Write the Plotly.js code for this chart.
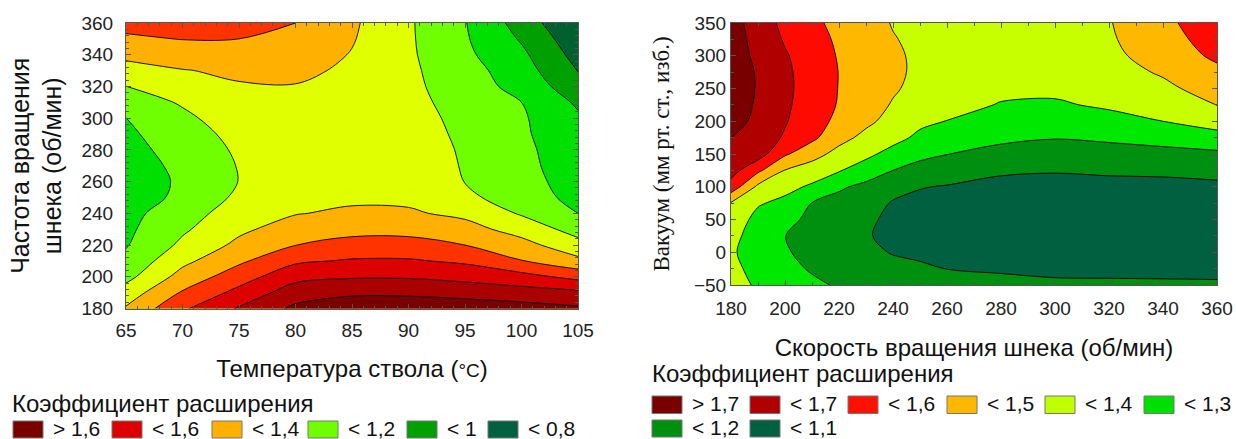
<!DOCTYPE html>
<html>
<head>
<meta charset="utf-8">
<script src="https://cdn.plot.ly/plotly-3.0.1.min.js"></script>
<style>
  html, body { margin: 0; padding: 0; background: #fff; }
  #chart { width: 1236px; height: 439px; }
</style>
</head>
<body>
<div id="chart"></div>
<script>
// ---------------- DATA ----------------
// Left chart: barrel temperature (x) vs screw speed (y)
const tempX = [65, 70, 75, 80, 85, 90, 95, 100, 105];
const speedY = [180, 190, 200, 210, 220, 230, 240, 250, 260, 270, 280, 290, 300, 310, 320, 330, 340, 350, 360];
const expansionLeft = [
  [1.21, 1.385, 1.51, 1.62, 1.67, 1.67, 1.66, 1.64, 1.615],
  [1.145, 1.31, 1.43, 1.552, 1.58, 1.58, 1.562, 1.543, 1.523],
  [1.07, 1.237, 1.354, 1.47, 1.49, 1.49, 1.47, 1.435, 1.37],
  [1.025, 1.175, 1.282, 1.383, 1.41, 1.41, 1.383, 1.304, 1.226],
  [0.993, 1.12, 1.223, 1.299, 1.33, 1.335, 1.3, 1.235, 1.134],
  [0.98, 1.085, 1.18, 1.246, 1.273, 1.269, 1.236, 1.16, 1.062],
  [0.97, 1.055, 1.15, 1.195, 1.218, 1.212, 1.178, 1.09, 1.0],
  [0.958, 1.018, 1.12, 1.17, 1.18, 1.18, 1.125, 1.042, 0.975],
  [0.955, 1.012, 1.102, 1.15, 1.16, 1.165, 1.098, 1.032, 0.962],
  [0.96, 1.02, 1.105, 1.14, 1.15, 1.155, 1.093, 1.025, 0.952],
  [0.97, 1.035, 1.115, 1.14, 1.145, 1.145, 1.09, 1.022, 0.942],
  [0.982, 1.055, 1.13, 1.145, 1.145, 1.14, 1.083, 1.015, 0.93],
  [0.998, 1.08, 1.15, 1.155, 1.15, 1.135, 1.075, 1.012, 0.915],
  [1.049, 1.11, 1.17, 1.175, 1.16, 1.128, 1.063, 1.0, 0.885],
  [1.099, 1.153, 1.193, 1.195, 1.17, 1.122, 1.05, 0.966, 0.84],
  [1.161, 1.196, 1.215, 1.225, 1.18, 1.118, 1.04, 0.944, 0.797],
  [1.224, 1.245, 1.26, 1.25, 1.195, 1.115, 1.02, 0.92, 0.765],
  [1.285, 1.303, 1.30, 1.275, 1.207, 1.113, 1.01, 0.89, 0.735],
  [1.33, 1.35, 1.34, 1.30, 1.215, 1.112, 1.005, 0.858, 0.70]
];
const leftLegendLabels = ['> 1,6', '< 1,6', '< 1,4', '< 1,2', '< 1', '< 0,8'];

// Right chart: screw speed (x) vs vacuum (y)
const speedX = [180, 190, 200, 210, 220, 230, 240, 250, 260, 280, 300, 320, 340, 360];
const vacuumY = [-50, -25, 0, 25, 50, 75, 100, 125, 150, 175, 200, 225, 250, 275, 300, 325, 350];
const expansionRight = [
  [1.335, 1.288, 1.253, 1.219, 1.19, 1.17, 1.15, 1.135, 1.125, 1.112, 1.108, 1.107, 1.106, 1.105],
  [1.32, 1.275, 1.229, 1.19, 1.17, 1.145, 1.125, 1.108, 1.099, 1.095, 1.09, 1.09, 1.09, 1.09],
  [1.31, 1.265, 1.208, 1.175, 1.15, 1.12, 1.095, 1.09, 1.08, 1.072, 1.07, 1.072, 1.075, 1.077],
  [1.325, 1.262, 1.201, 1.172, 1.137, 1.105, 1.085, 1.075, 1.065, 1.058, 1.055, 1.058, 1.062, 1.065],
  [1.36, 1.27, 1.225, 1.18, 1.14, 1.11, 1.088, 1.07, 1.06, 1.052, 1.05, 1.053, 1.057, 1.06],
  [1.393, 1.31, 1.275, 1.198, 1.165, 1.14, 1.093, 1.08, 1.07, 1.06, 1.058, 1.06, 1.065, 1.07],
  [1.56, 1.38, 1.33, 1.285, 1.215, 1.175, 1.13, 1.104, 1.095, 1.08, 1.075, 1.08, 1.085, 1.09],
  [1.64, 1.52, 1.397, 1.355, 1.307, 1.255, 1.2, 1.165, 1.145, 1.11, 1.105, 1.11, 1.11, 1.115],
  [1.664, 1.645, 1.513, 1.435, 1.37, 1.322, 1.268, 1.225, 1.202, 1.17, 1.15, 1.165, 1.175, 1.18],
  [1.701, 1.65, 1.59, 1.522, 1.43, 1.376, 1.33, 1.28, 1.25, 1.22, 1.205, 1.215, 1.23, 1.27],
  [1.735, 1.678, 1.607, 1.544, 1.475, 1.419, 1.37, 1.32, 1.298, 1.26, 1.25, 1.265, 1.3, 1.335],
  [1.748, 1.688, 1.616, 1.553, 1.493, 1.44, 1.393, 1.355, 1.33, 1.295, 1.288, 1.315, 1.35, 1.402],
  [1.758, 1.692, 1.621, 1.557, 1.497, 1.454, 1.41, 1.375, 1.355, 1.32, 1.32, 1.345, 1.38, 1.44],
  [1.762, 1.69, 1.618, 1.557, 1.498, 1.455, 1.415, 1.385, 1.365, 1.335, 1.34, 1.365, 1.41, 1.475],
  [1.755, 1.676, 1.609, 1.55, 1.493, 1.453, 1.413, 1.385, 1.368, 1.345, 1.355, 1.38, 1.438, 1.52],
  [1.75, 1.664, 1.591, 1.537, 1.485, 1.445, 1.405, 1.38, 1.362, 1.348, 1.365, 1.39, 1.454, 1.55],
  [1.745, 1.65, 1.576, 1.52, 1.475, 1.435, 1.395, 1.37, 1.355, 1.35, 1.37, 1.395, 1.469, 1.58]
];
const rightLegendLabels = ['> 1,7', '< 1,7', '< 1,6', '< 1,5', '< 1,4', '< 1,3', '< 1,2', '< 1,1'];

// ---------------- STYLE ----------------
const W = 1236, H = 439;
const FONT = 'Liberation Sans, Arial, sans-serif';
const SERIF = 'Liberation Serif, Times New Roman, serif';
// band colours from the lowest band to the highest
const leftBandColors = ['#006030', '#00a000', '#00e000', '#70ff00', '#e0ff00', '#ffb000', '#ff3300', '#dd0000', '#aa0000', '#7a0000'];
const leftLegendColors = ['#7a0000', '#dd0000', '#ffb000', '#70ff00', '#00a000', '#006040'];
const rightBandColors = ['#006040', '#009010', '#00e800', '#c8ff00', '#ffb800', '#ff0a00', '#b00000', '#7a0000'];
const rightLegendColors = ['#7a0000', '#b00000', '#ff1000', '#ffb800', '#c0ff00', '#00e000', '#009010', '#006040'];

function stepScale(colors) {
  const n = colors.length - 1;
  const out = [];
  colors.forEach((c, i) => {
    const a = Math.max(0, (i - 0.5) / n), b = Math.min(1, (i + 0.5) / n);
    out.push([a, c]); out.push([b, c]);
  });
  return out;
}
const fx = v => v / W;
const fy = v => 1 - v / H;

const traces = [
  {
    type: 'contour', x: tempX, y: speedY, z: expansionLeft, xaxis: 'x', yaxis: 'y',
    autocontour: false, contours: {start: 0.8, end: 1.6, size: 0.1, coloring: 'fill'},
    colorscale: stepScale(leftBandColors), showscale: false,
    line: {color: '#000', width: 0.9, smoothing: 1}, hoverinfo: 'skip'
  },
  {
    type: 'contour', x: speedX, y: vacuumY, z: expansionRight, xaxis: 'x2', yaxis: 'y2',
    autocontour: false, contours: {start: 1.1, end: 1.7, size: 0.1, coloring: 'fill'},
    colorscale: stepScale(rightBandColors), showscale: false,
    line: {color: '#000', width: 0.9, smoothing: 1}, hoverinfo: 'skip'
  }
];

const tickFont = {family: FONT, size: 19, color: '#222'};
function axisBase(extra) {
  return Object.assign({
    showgrid: false, zeroline: false, showline: true, linecolor: '#555', linewidth: 1,
    mirror: 'allticks', ticks: 'inside', ticklen: 5, tickcolor: '#555', tickwidth: 1,
    tickfont: tickFont, fixedrange: true
  }, extra);
}

const layout = {
  width: W, height: H,
  margin: {l: 0, r: 0, t: 0, b: 0},
  paper_bgcolor: '#fff', plot_bgcolor: '#fff',
  showlegend: false,
  xaxis: axisBase({
    domain: [fx(126), fx(578)], range: [65, 105], dtick: 5, tick0: 65, anchor: 'y',
    minor: {dtick: 1, ticks: 'inside', ticklen: 3, tickcolor: '#555'},
    ticklabelstandoff: 5,
    title: {text: 'Температура ствола (<span style="font-size:19px">°C</span>)', font: {family: FONT, size: 24, color: '#111'}, standoff: 19}
  }),
  yaxis: axisBase({
    domain: [fy(308.5), fy(23)], range: [180, 360], dtick: 20, anchor: 'x',
    minor: {dtick: 4, ticks: 'inside', ticklen: 3, tickcolor: '#555'},
    ticklabelstandoff: 8,
    title: {text: 'Частота вращения<br>шнека (об/мин)', font: {family: FONT, size: 25, color: '#111'}, standoff: 12}
  }),
  xaxis2: axisBase({
    domain: [fx(731), fx(1217)], range: [180, 360], dtick: 20, tick0: 180, anchor: 'y2',
    minor: {dtick: 10, ticks: 'inside', ticklen: 3, tickcolor: '#555'},
    ticklabelstandoff: 6,
    title: {text: 'Скорость вращения шнека (об/мин)', font: {family: FONT, size: 24, color: '#111'}, standoff: 21}
  }),
  yaxis2: axisBase({
    domain: [fy(285), fy(23)], range: [-50, 350], dtick: 50, anchor: 'x2',
    minor: {dtick: 25, ticks: 'inside', ticklen: 3, tickcolor: '#555'},
    ticklabelstandoff: 0,
    title: {text: 'Вакуум (мм рт. ст., изб.)', font: {family: SERIF, size: 23, color: '#111'}, standoff: 17}
  }),
  shapes: [],
  annotations: []
};

// -------- legends drawn as swatches + real text --------
function addLegend(title, titleX, titleY, labels, colors, items) {
  layout.annotations.push({
    xref: 'paper', yref: 'paper', x: fx(titleX), y: fy(titleY), xanchor: 'left', yanchor: 'middle',
    text: title, showarrow: false, font: {family: FONT, size: 24, color: '#111'}
  });
  labels.forEach((lab, i) => {
    const it = items[i];
    layout.shapes.push({
      type: 'rect', xref: 'paper', yref: 'paper',
      x0: fx(it[0]), x1: fx(it[0] + 30), y0: fy(it[1] + it[2]), y1: fy(it[1]),
      fillcolor: colors[i], line: {color: '#777', width: 1}
    });
    layout.annotations.push({
      xref: 'paper', yref: 'paper', x: fx(it[0] + 38), y: fy(it[1] + it[2] / 2 - 1),
      xanchor: 'left', yanchor: 'middle', text: lab, showarrow: false,
      font: {family: FONT, size: 21, color: '#111'}
    });
  });
}
// item positions: [left px, top px, height px]
const leftItems = [[13, 421, 17], [112, 421, 17], [212, 421, 17], [308, 421, 17], [407, 421, 17], [488, 421, 17]];
const rightItems = [[652, 396, 17.5], [750, 396, 17.5], [848, 396, 17.5], [947, 396, 17.5], [1045, 396, 17.5], [1144, 396, 17.5], [652, 420, 17], [750, 420, 17]];
addLegend('Коэффициент расширения', 10, 403.5, leftLegendLabels, leftLegendColors, leftItems);
addLegend('Коэффициент расширения', 650, 373.5, rightLegendLabels, rightLegendColors, rightItems);

Plotly.newPlot('chart', traces, layout, {displayModeBar: false, staticPlot: true});
</script>
</body>
</html>
